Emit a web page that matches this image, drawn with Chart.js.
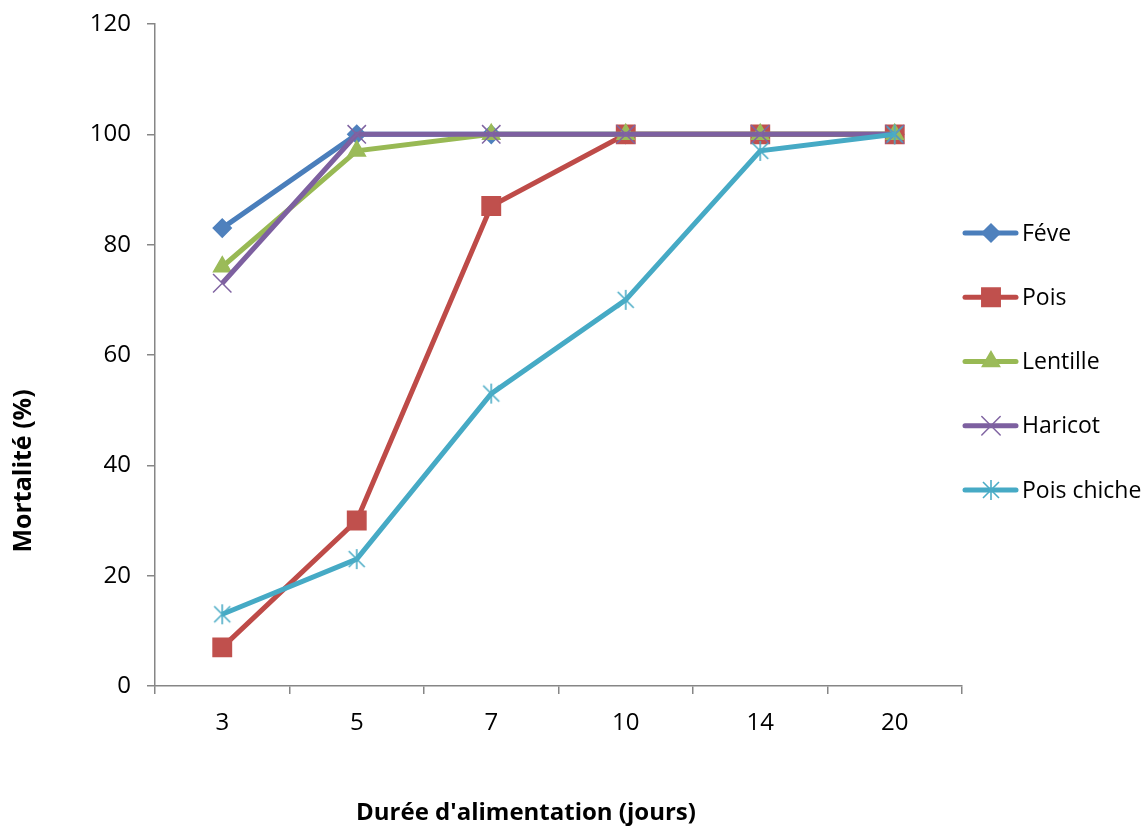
<!DOCTYPE html>
<html>

<head>
    <title>Mortalité selon la durée d'alimentation</title>
    <script src="https://cdn.jsdelivr.net/npm/chart.js@4.4.2/dist/chart.umd.min.js"></script>
    <style>
        html,
        body {
            margin: 0;
            padding: 0;
            background: #ffffff;
        }

        .chartBox {
            width: 1143px;
            height: 828px;
        }
    </style>
</head>

<body>
    <div class="chartBox">
        <canvas id="mortaliteChart"></canvas>
    </div>
    <script>
        // Durée d'alimentation (jours)
        const jours = ['3', '5', '7', '10', '14', '20'];

        // Mortalité (%) par graine
        const feve = [83, 100, 100, 100, 100, 100];
        const pois = [7, 30, 87, 100, 100, 100];
        const lentille = [76, 97, 100, 100, 100, 100];
        const haricot = [73, 100, 100, 100, 100, 100];
        const poisChiche = [13, 23, 53, 70, 97, 100];

        const yTicks = [0, 20, 40, 60, 80, 100, 120];

        const FONT = "'Open Sans', 'Liberation Sans', Arial, sans-serif";

        // marqueur étoile (X + barre verticale)
        function makeStar(color) {
            const c = document.createElement('canvas');
            c.width = 22;
            c.height = 22;
            const g = c.getContext('2d');
            g.strokeStyle = color;
            g.lineWidth = 1.6;
            g.beginPath();
            g.moveTo(3, 3); g.lineTo(19, 19);
            g.moveTo(19, 3); g.lineTo(3, 19);
            g.moveTo(11, 1); g.lineTo(11, 21);
            g.stroke();
            return c;
        }

        function serie(label, data, line, fill, style, radius, order) {
            return {
                label: label,
                data: data,
                borderColor: line,
                backgroundColor: fill,
                borderWidth: 5,
                pointStyle: style,
                pointRadius: radius,
                pointBackgroundColor: fill,
                pointBorderColor: fill,
                pointBorderWidth: 1.5,
                tension: 0,
                order: order
            };
        }

        const datasets = [
            serie('Féve', feve, '#4A7EBB', '#4F81BD', 'rectRot', 9, 5),
            serie('Pois', pois, '#BE4B48', '#C0504D', 'rect', 13, 4),
            serie('Lentille', lentille, '#98B954', '#9BBB59', 'triangle', 10, 3),
            serie('Haricot', haricot, '#7D60A0', '#8064A2', 'crossRot', 13, 2),
            serie('Pois chiche', poisChiche, '#46AAC5', '#4BACC6', makeStar('#4BACC6'), 10, 1)
        ];

        // légende à droite + titres des axes
        const decor = {
            id: 'decor',
            afterDraw(chart) {
                const ctx = chart.ctx;
                ctx.save();
                ctx.font = '23px ' + FONT;
                ctx.textBaseline = 'middle';
                ctx.fillStyle = '#000';
                chart.data.datasets.forEach((ds, i) => {
                    const y = 233 + i * 64.25;
                    ctx.strokeStyle = ds.borderColor;
                    ctx.lineWidth = ds.borderWidth;
                    ctx.lineCap = 'round';
                    ctx.beginPath();
                    ctx.moveTo(965, y);
                    ctx.lineTo(1016, y);
                    ctx.stroke();
                    ctx.fillStyle = ds.pointBackgroundColor;
                    ctx.strokeStyle = ds.pointBorderColor;
                    ctx.lineWidth = ds.pointBorderWidth;
                    Chart.helpers.drawPoint(ctx, {
                        pointStyle: ds.pointStyle,
                        radius: ds.pointRadius,
                        rotation: 0,
                        borderWidth: ds.pointBorderWidth
                    }, 991, y);
                    ctx.fillStyle = '#000';
                    ctx.fillText(ds.label, 1022, y + 1);
                });

                ctx.font = 'bold 24px ' + FONT;
                ctx.textAlign = 'center';
                ctx.fillText("Durée d'alimentation (jours)", 526, 813);
                ctx.font = 'bold 25px ' + FONT;
                ctx.translate(24, 471);
                ctx.rotate(-Math.PI / 2);
                ctx.fillText('Mortalité (%)', 0, 0);
                ctx.restore();
            }
        };

        const ctx = document.getElementById('mortaliteChart').getContext('2d');
        new Chart(ctx, {
            type: 'line',
            data: {
                labels: jours,
                datasets: datasets
            },
            plugins: [decor],
            options: {
                responsive: true,
                maintainAspectRatio: false,
                animation: false,
                events: [],
                layout: {
                    padding: { left: 0, top: 24, right: 181, bottom: 0 }
                },
                plugins: {
                    legend: { display: false },
                    tooltip: { enabled: false }
                },
                scales: {
                    x: {
                        offset: true,
                        afterFit: (scale) => { scale.height = 142; },
                        grid: {
                            offset: true,
                            drawOnChartArea: false,
                            tickLength: 8,
                            color: '#868686',
                            lineWidth: 1.5
                        },
                        border: { color: '#868686', width: 1.5 },
                        ticks: {
                            color: '#000',
                            padding: 15,
                            maxRotation: 0,
                            font: { family: FONT, size: 24 }
                        }
                    },
                    y: {
                        min: yTicks[0],
                        max: yTicks[yTicks.length - 1],
                        afterFit: (scale) => {
                            scale.width = 155;
                            scale.paddingTop = 0;
                            scale.paddingBottom = 0;
                        },
                        afterBuildTicks: (scale) => {
                            scale.ticks = yTicks.map(v => ({ value: v }));
                        },
                        grid: {
                            drawOnChartArea: false,
                            tickLength: 8,
                            color: '#868686',
                            lineWidth: 1.5
                        },
                        border: { color: '#868686', width: 1.5 },
                        ticks: {
                            color: '#000',
                            padding: 16,
                            font: { family: FONT, size: 24 }
                        }
                    }
                }
            }
        });
    </script>
</body>

</html>
